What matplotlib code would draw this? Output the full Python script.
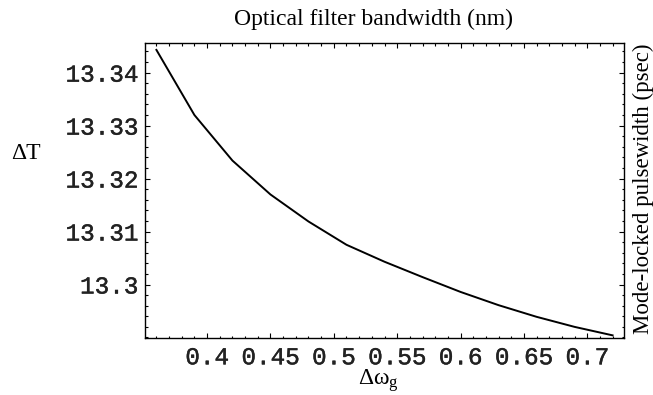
import matplotlib
matplotlib.use("Agg")
import matplotlib.pyplot as plt
import matplotlib.patheffects as pe
from matplotlib.ticker import MultipleLocator, FixedLocator, FuncFormatter

# Data
bandwidth = [0.36, 0.39, 0.42, 0.45, 0.48, 0.51, 0.54, 0.57, 0.60, 0.63, 0.66, 0.69, 0.72]
pulsewidth = [13.3443, 13.3320, 13.3234, 13.3170, 13.3119, 13.3075, 13.3043, 13.3014,
              13.2986, 13.2961, 13.2939, 13.2920, 13.2904]
x_ticks = [0.4, 0.45, 0.5, 0.55, 0.6, 0.65, 0.7]
y_ticks = [13.30, 13.31, 13.32, 13.33, 13.34]

plt.rcParams['mathtext.fontset'] = 'custom'
plt.rcParams['mathtext.rm'] = 'Liberation Serif'
plt.rcParams['mathtext.it'] = 'Liberation Serif:italic'

W, H = 653, 395
fig = plt.figure(figsize=(W / 100, H / 100), dpi=100)
ax = fig.add_axes([145 / W, 1 - 338 / H, (624 - 145) / W, (338 - 43) / H])

ax.plot(bandwidth, pulsewidth, color='black', lw=1.4)
ax.set_xlim(0.351, 0.729)
ax.set_ylim(13.2899, 13.3456)

ax.xaxis.set_major_locator(FixedLocator(x_ticks))
ax.xaxis.set_minor_locator(MultipleLocator(0.01))
ax.yaxis.set_major_locator(FixedLocator(y_ticks))
ax.yaxis.set_minor_locator(MultipleLocator(0.002))

def fmt(v, pos):
    s = f"{v:.2f}".rstrip('0').rstrip('.')
    return s

ax.xaxis.set_major_formatter(FuncFormatter(fmt))
ax.yaxis.set_major_formatter(FuncFormatter(fmt))

ax.tick_params(which='both', direction='in', top=True, right=True, width=0.8)
ax.tick_params(which='major', length=3.5)
ax.tick_params(which='minor', length=1.8)
ax.tick_params(axis='x', pad=6)
ax.tick_params(axis='y', pad=5)
for lab in ax.get_xticklabels() + ax.get_yticklabels():
    lab.set_fontfamily('Liberation Mono')
    lab.set_fontsize(17.5)
    lab.set_color('#222222')
    lab.set_path_effects([pe.withStroke(linewidth=0.3, foreground='#222222')])
for sp in ax.spines.values():
    sp.set_linewidth(1.0)

serif = 'Liberation Serif'
fig.text(373 / W, 1 - 25 / H, 'Optical filter bandwidth (nm)', family=serif,
         fontsize=17, ha='center', va='baseline')
fig.text(26 / W, 1 - 159 / H, 'ΔT', family=serif, fontsize=17,
         ha='center', va='baseline')
fig.text(378 / W, 1 - 385 / H, r'$\mathrm{\Delta\omega_g}$', fontsize=17,
         ha='center', va='baseline')
fig.text(643 / W, 1 - 189 / H, 'Mode-locked pulsewidth (psec)', family=serif,
         fontsize=16.5, ha='center', va='center', rotation=90)

fig.savefig('out.png', dpi=100)
